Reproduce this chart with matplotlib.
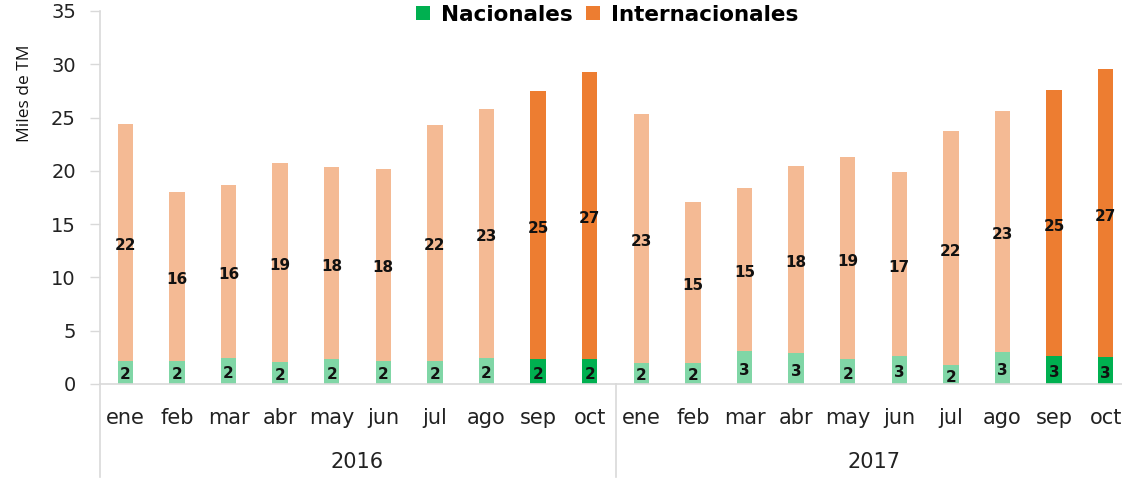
import matplotlib
matplotlib.use("Agg")
import matplotlib.pyplot as plt
from matplotlib.transforms import blended_transform_factory
from matplotlib.patches import Patch

months = ["ene", "feb", "mar", "abr", "may", "jun", "jul", "ago", "sep", "oct"]
years = ["2016", "2017"]
nacionales = [2.2, 2.2, 2.4, 2.1, 2.3, 2.2, 2.2, 2.4, 2.3, 2.3,
              2.0, 2.0, 3.1, 2.9, 2.3, 2.6, 1.8, 3.0, 2.6, 2.55]
internacionales = [22.2, 15.8, 16.3, 18.6, 18.1, 18.0, 22.1, 23.4, 25.2, 27.0,
                   23.3, 15.1, 15.3, 17.6, 19.0, 17.3, 21.9, 22.6, 25.0, 27.0]
highlight = ["sep", "oct"]

plt.rcParams['font.family'] = ['DejaVu Sans']

fig = plt.figure(figsize=(11.22, 4.78), dpi=100)
ax = fig.add_axes([0.0887, 0.1967, 0.9198, 0.7803])

labels = months * len(years)
x = list(range(len(labels)))
nat_colors = ["#00B050" if m in highlight else "#80D6A6" for m in labels]
int_colors = ["#ED7D31" if m in highlight else "#F4BA94" for m in labels]

w = 0.30
ax.bar(x, nacionales, width=w, color=nat_colors, edgecolor="none", zorder=2)
ax.bar(x, internacionales, width=w, bottom=nacionales, color=int_colors, edgecolor="none", zorder=2)

def r(v):
    return int(v + 0.5)

for xi, n, i in zip(x, nacionales, internacionales):
    ax.text(xi, n / 2 - 0.25, f"{r(n)}", ha="center", va="center", fontsize=11,
            fontweight="bold", color="#111111", zorder=3)
    ax.text(xi, n + i / 2 - 0.3, f"{r(i)}", ha="center", va="center", fontsize=11,
            fontweight="bold", color="#111111", zorder=3)

ax.set_xlim(-0.5, len(labels) - 0.5)
ax.set_ylim(0, 35)
ax.set_yticks(range(0, 36, 5))
ax.tick_params(axis="y", labelsize=14, length=7, color="#d9d9d9", width=1, pad=10, labelcolor="#222222")
ax.set_xticks(x)
ax.set_xticklabels(labels, fontsize=15, color="#222222")
ax.tick_params(axis="x", length=0, pad=17)

for s in ["top", "right"]:
    ax.spines[s].set_visible(False)
ax.spines["left"].set_color("#d9d9d9")
ax.spines["bottom"].set_color("#d9d9d9")
ax.spines["left"].set_linewidth(1.2)
ax.spines["bottom"].set_linewidth(1.2)

ax.set_ylabel("Miles de TM", fontsize=12.5, color="#111111", family="Open Sans")
ax.yaxis.set_label_coords(-0.064, 0.78)

# Group separators and year labels
trans = blended_transform_factory(ax.transData, ax.transAxes)
n_m = len(months)
for k in range(len(years) + 1):
    xs = -0.5 + k * n_m
    ax.plot([xs, xs], [0, -0.25], transform=trans, color="#d9d9d9", lw=1.2, clip_on=False)
for k, yr in enumerate(years):
    ax.text(-0.5 + k * n_m + n_m / 2, -0.209, yr, transform=trans, ha="center", va="center",
            fontsize=15, color="#222222")

handles = [Patch(facecolor="#00B050", label="Nacionales"),
           Patch(facecolor="#ED7D31", label="Internacionales")]
leg = ax.legend(handles=handles, loc="center", bbox_to_anchor=(0.492, 0.99), ncol=2,
                frameon=False, handlelength=0.65, handleheight=0.65, handletextpad=0.5,
                columnspacing=0.6, prop={"size": 15.5, "weight": "bold"})

fig.savefig("out.png", dpi=100)
